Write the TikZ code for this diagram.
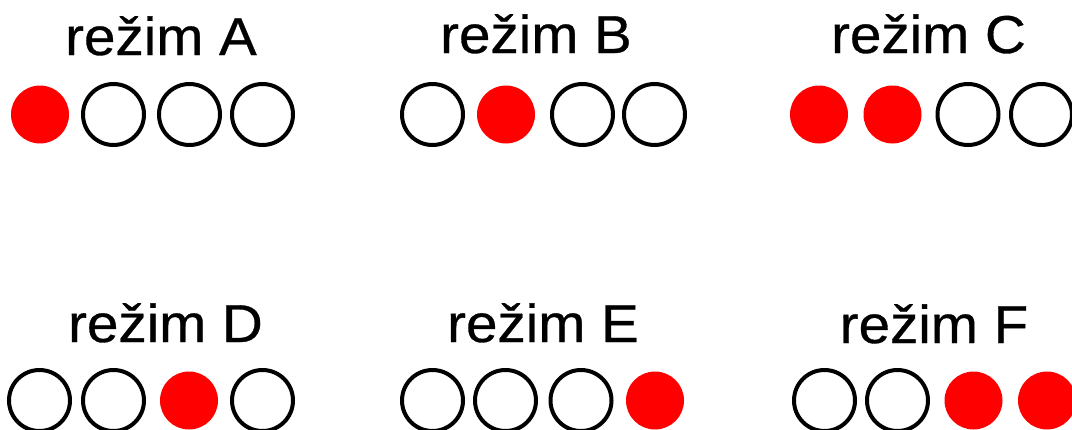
\documentclass[tikz,border=0pt]{standalone}
\usepackage{fontspec}
\setmainfont{Liberation Sans}[FakeStretch=1.06,FakeBold=0.6]
\tikzset{every picture/.style={line width=0.75pt}}
\tikzset{
  lamp off/.style={draw={rgb, 255:red, 0; green, 0; blue, 0 }, line width=3pt, circle, inner sep=0pt, minimum size=45.75pt},
  lamp on/.style={fill={rgb, 255:red, 255; green, 0; blue, 0 }, circle, inner sep=0pt, minimum size=43.5pt},
  mode label/.style={anchor=base, inner sep=0.75pt, font=\fontsize{40}{42}\selectfont}
}
\begin{document}
\begin{tikzpicture}[x=0.75pt,y=0.75pt,yscale=-1,xscale=1]
\useasboundingbox (0,0) rectangle (1072,429);

% Text Node
\draw (161,55) node [mode label] (labA) {režim A};
% Text Node
\draw (536,53) node [mode label] (labB) {režim B};
% Text Node
\draw (928.5,53) node [mode label] (labC) {režim C};
% Text Node
\draw (165.5,342) node [mode label] (labD) {režim D};
% Text Node
\draw (543,342) node [mode label] (labE) {režim E};
% Text Node
\draw (934,343) node [mode label] (labF) {režim F};

%Shape: Circles, mode A
\node [lamp on] (a1) at (40,114.5) {};
\node [lamp off] (a2) at (113.5,114.5) {};
\node [lamp off] (a3) at (189.5,114.5) {};
\node [lamp off] (a4) at (262.5,114.5) {};
%Shape: Circles, mode B
\node [lamp off] (b1) at (432.5,114.5) {};
\node [lamp on] (b2) at (506,114.5) {};
\node [lamp off] (b3) at (582.5,114.5) {};
\node [lamp off] (b4) at (654.5,114.5) {};
%Shape: Circles, mode C
\node [lamp on] (c1) at (819,114.5) {};
\node [lamp on] (c2) at (892.5,114.5) {};
\node [lamp off] (c3) at (968,114.5) {};
\node [lamp off] (c4) at (1041.5,114.5) {};
%Shape: Circles, mode D
\node [lamp off] (d1) at (39.5,400.5) {};
\node [lamp off] (d2) at (113.5,400.5) {};
\node [lamp on] (d3) at (189,400.5) {};
\node [lamp off] (d4) at (262.5,400.5) {};
%Shape: Circles, mode E
\node [lamp off] (e1) at (432.5,400.5) {};
\node [lamp off] (e2) at (505.5,400.5) {};
\node [lamp off] (e3) at (581,400.5) {};
\node [lamp on] (e4) at (655,400.5) {};
%Shape: Circles, mode F
\node [lamp off] (f1) at (824.5,400.5) {};
\node [lamp off] (f2) at (897.5,400.5) {};
\node [lamp on] (f3) at (973.5,400.5) {};
\node [lamp on] (f4) at (1047,400.5) {};
\end{tikzpicture}
\end{document}
